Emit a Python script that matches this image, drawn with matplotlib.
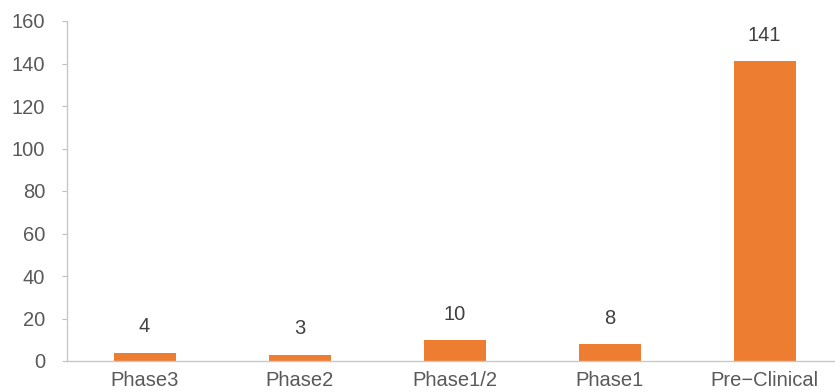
import matplotlib.pyplot as plt

categories = ['Phase3', 'Phase2', 'Phase1/2', 'Phase1', 'Pre\u2212Clinical']
counts = [4, 3, 10, 8, 141]

plt.rcParams['font.family'] = ['Liberation Sans', 'DejaVu Sans']

fig = plt.figure(figsize=(8.35, 3.92), dpi=100)
# plot area runs a little past the right edge of the image, as in the reference
ax = fig.add_axes([67 / 835, 31 / 392, 775 / 835, 340 / 392])

x = range(len(categories))
bars = ax.bar(x, counts, width=0.40, color='#ed7d31')
for xi, v in zip(x, counts):
    ax.annotate(str(v), (xi, v), xytext=(0, 18.5), textcoords='offset points',
                ha='center', va='center', fontsize=14.5, color='#404040')

ax.set_xlim(-0.5, 4.5)
ax.set_ylim(0, 160)
ax.set_yticks(range(0, 161, 20))
ax.set_xticks(list(x))
ax.set_xticklabels(categories)

for s in ['top', 'right']:
    ax.spines[s].set_visible(False)
for s in ['left', 'bottom']:
    ax.spines[s].set_color('#c8c8c8')
    ax.spines[s].set_linewidth(1.0)

ax.tick_params(axis='y', colors='#bfbfbf', labelcolor='#595959', labelsize=14.5, length=3.6, pad=12)
ax.tick_params(axis='x', length=0, labelcolor='#595959', labelsize=14.5, pad=7)

fig.savefig('out.png', dpi=100)
